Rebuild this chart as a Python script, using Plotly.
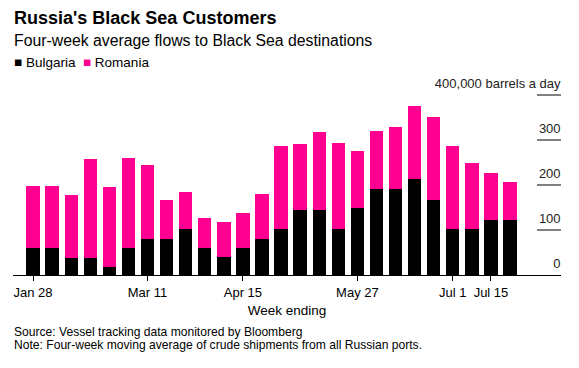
import plotly.graph_objects as go

weeks = ["Jan 28", "Feb 4", "Feb 11", "Feb 18", "Feb 25", "Mar 4", "Mar 11", "Mar 18",
         "Mar 25", "Apr 1", "Apr 8", "Apr 15", "Apr 22", "Apr 29", "May 6", "May 13",
         "May 20", "May 27", "Jun 3", "Jun 10", "Jun 17", "Jun 24", "Jul 1", "Jul 8",
         "Jul 15", "Jul 22"]
bulgaria = [60, 60, 38, 38, 18, 61, 81, 81, 103, 61, 41, 61, 81, 103, 145, 145,
            103, 150, 191, 191, 213, 167, 103, 103, 123, 123]
romania = [139, 139, 141, 220, 179, 199, 164, 85, 82, 65, 78, 78, 100, 184, 146, 173,
           191, 126, 129, 139, 163, 185, 184, 147, 104, 84]
tick_weeks = ["Jan 28", "Mar 11", "Apr 15", "May 27", "Jul 1", "Jul 15"]
y_ticks = [0, 100, 200, 300, 400]
y_ticktext = ["0", "100", "200", "300", "400,000 barrels a day"]

BLACK = "#000000"
PINK = "#ff0090"
FONT = "Liberation Sans, Arial, sans-serif"

# page body has an 8px default margin: figure is 8px smaller, offsets shifted by 8
W, H = 571, 360
ML, MR, MT, MB = 5, 18, 72, 93

fig = go.Figure()
fig.add_trace(go.Bar(x=weeks, y=bulgaria, name="Bulgaria", marker_color=BLACK,
                     marker_line_width=0, showlegend=False))
fig.add_trace(go.Bar(x=weeks, y=romania, name="Romania", marker_color=PINK,
                     marker_line_width=0, showlegend=False))

fig.update_layout(
    width=W, height=H,
    margin=dict(l=ML, r=MR, t=MT, b=MB, autoexpand=False),
    barmode="stack", bargap=0.3,
    plot_bgcolor="white", paper_bgcolor="white",
    font=dict(family=FONT, size=12, color="#000"),
    xaxis=dict(type="category", range=[-1.05, 27.67], automargin=False,
               tickvals=tick_weeks, ticktext=tick_weeks,
               showline=True, linecolor="#000", linewidth=1,
               ticks="outside", ticklen=5, tickcolor="#000", tickwidth=1,
               showgrid=False, tickfont=dict(size=13, color="#000"),
               title=dict(text="Week ending", font=dict(size=13.5, color="#000"), standoff=6)),
    yaxis=dict(range=[0, 434.3], side="right", tickvals=y_ticks, ticktext=y_ticktext,
               automargin=False, ticklabeloverflow="allow",
               ticklabelposition="inside", ticklabelshift=-12, ticklabelstandoff=-24,
               ticks="inside", ticklen=24,
               tickcolor="#808080", tickwidth=1.5, showgrid=False, showline=False,
               zeroline=False, tickfont=dict(size=13, color="#222")),
)

anns = [
    dict(text="<b>Russia's Black Sea Customers</b>", xp=12, yp=18, size=18),
    dict(text="Four-week average flows to Black Sea destinations", xp=12, yp=40, size=15.8),
    dict(text=f"<span style='color:{BLACK}'>■</span> Bulgaria  "
              f"<span style='color:{PINK}'>■</span> Romania", xp=12, yp=62, size=13.5),
    dict(text="Source: Vessel tracking data monitored by Bloomberg", xp=12, yp=332, size=12.1),
    dict(text="Note: Four-week moving average of crude shipments from all Russian ports.",
         xp=12, yp=345, size=12.1),
]
plot_w = W - ML - MR
plot_h = H - MT - MB
for a in anns:
    fig.add_annotation(
        text=a["text"], showarrow=False,
        xref="paper", yref="paper",
        x=(a["xp"] - 8 - ML) / plot_w, y=(H - MB - (a["yp"] - 8)) / plot_h,
        xanchor="left", yanchor="middle",
        font=dict(family=FONT, size=a["size"], color="#000"),
    )

fig.write_html("out.html")
